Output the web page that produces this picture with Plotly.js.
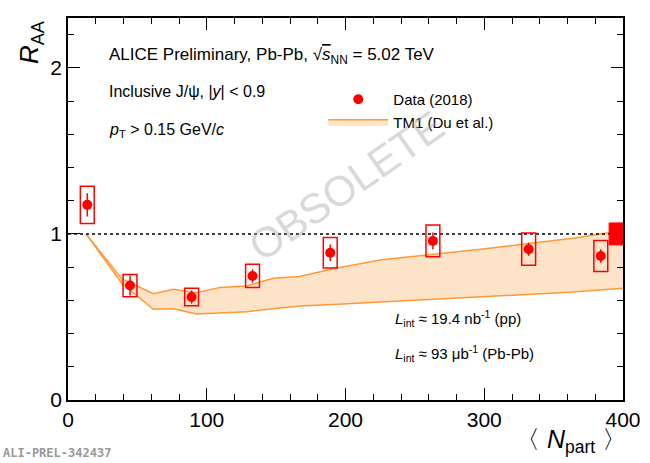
<!DOCTYPE html>
<html><head><meta charset="utf-8">
<script src="https://cdn.plot.ly/plotly-3.0.1.min.js"></script>
<style>body{margin:0}#plot{width:650px;height:463px}</style>
</head><body><div id="plot"></div>
<script>
'use strict';
// data
const npart = [13.9, 44.7, 89.1, 133, 189, 263, 332, 384];
const raa = [1.175, 0.689, 0.62, 0.747, 0.887, 0.958, 0.908, 0.867];
const statErr = [0.07, 0.06, 0.04, 0.04, 0.05, 0.05, 0.04, 0.04];
const sysErr = [0.112, 0.067, 0.053, 0.07, 0.092, 0.095, 0.097, 0.093];
const tmX = [13, 38.7, 61.5, 75.9, 92.7, 109.5, 128.8, 148, 167, 191, 225, 304, 364, 400];
const tmUp = [1.0, 0.73, 0.64, 0.667, 0.646, 0.678, 0.687, 0.733, 0.743, 0.79, 0.843, 0.914, 0.974, 1.02];
const tmLow = [1.0, 0.703, 0.546, 0.55, 0.518, 0.525, 0.532, 0.55, 0.566, 0.575, 0.59, 0.627, 0.65, 0.673];
const globalErr = 0.066;

const font = 'Liberation Sans, Arial, sans-serif';
const traces = [
  {x: tmX, y: tmLow, mode: 'lines', line: {color: '#ff9933', width: 1.5}, showlegend: false, hoverinfo: 'skip'},
  {x: tmX, y: tmUp, mode: 'lines', fill: 'tonexty', fillcolor: 'rgb(253,228,200)',
   line: {color: '#ff9933', width: 1.5}, name: 'TM1 (Du et al.)'},
  {x: npart, y: raa, mode: 'markers', name: 'Data (2018)',
   marker: {color: 'red', size: 10},
   error_y: {type: 'data', array: statErr, color: 'red', thickness: 1.5, width: 0}}
];

const shapes = [{type: 'line', xref: 'x', yref: 'y', x0: 0, x1: 400, y0: 1, y1: 1,
  line: {color: 'black', width: 1.5, dash: 'dot'}}];
npart.forEach(function(x, i){
  shapes.push({type: 'rect', xref: 'x', yref: 'y', x0: x - 5, x1: x + 5,
    y0: raa[i] - sysErr[i], y1: raa[i] + sysErr[i], line: {color: 'red', width: 1.5}});
});
shapes.push({type: 'rect', xref: 'x', yref: 'y', x0: 390, x1: 400,
  y0: 1 - globalErr, y1: 1 + globalErr, fillcolor: 'red', line: {color: 'red', width: 1}});

const annotations = [
  {xref: 'paper', yref: 'paper', x: 0.07, y: 0.935, xanchor: 'left', showarrow: false,
   text: 'ALICE Preliminary, Pb-Pb, √<span style="text-decoration:overline"><i>s</i></span><sub>NN</sub> = 5.02 TeV', font: {family: font, size: 17, color: 'black'}},
  {xref: 'paper', yref: 'paper', x: 0.07, y: 0.835, xanchor: 'left', showarrow: false,
   text: 'Inclusive J/ψ, |<i>y</i>| < 0.9', font: {family: font, size: 16, color: 'black'}},
  {xref: 'paper', yref: 'paper', x: 0.07, y: 0.735, xanchor: 'left', showarrow: false,
   text: '<i>p</i><sub>T</sub> > 0.15 GeV/<i>c</i>', font: {family: font, size: 16, color: 'black'}},
  {xref: 'paper', yref: 'paper', x: 0.585, y: 0.18, xanchor: 'left', showarrow: false,
   text: '<i>L</i><sub>int</sub> ≈ 19.4 nb<sup>-1</sup> (pp)', font: {family: font, size: 15, color: 'black'}},
  {xref: 'paper', yref: 'paper', x: 0.585, y: 0.09, xanchor: 'left', showarrow: false,
   text: '<i>L</i><sub>int</sub> ≈ 93 μb<sup>-1</sup> (Pb-Pb)', font: {family: font, size: 15, color: 'black'}},
  {xref: 'paper', yref: 'paper', x: 0.5, y: 0.56, showarrow: false, textangle: -35,
   text: 'OBSOLETE', font: {family: font, size: 42, color: 'rgba(170,170,170,0.45)'}},
  {xref: 'paper', yref: 'paper', x: -0.035, y: 1.0, xanchor: 'right', yanchor: 'top', showarrow: false, textangle: -90,
   text: '<i>R</i><sub>AA</sub>', font: {family: font, size: 26, color: 'black'}},
  {xref: 'paper', yref: 'paper', x: 1.01, y: -0.06, xanchor: 'right', yanchor: 'top', showarrow: false,
   text: '〈 <i>N</i><sub>part</sub> 〉', font: {family: font, size: 25, color: 'black'}},
  {xref: 'paper', yref: 'paper', x: -0.12, y: -0.115, xanchor: 'left', yanchor: 'top', showarrow: false,
   text: '<b>ALI-PREL-342437</b>', font: {family: 'DejaVu Sans Mono, monospace', size: 12, color: '#999'}}
];

const axisBase = {showgrid: false, zeroline: false, showline: true, linecolor: 'black', linewidth: 1.5,
  mirror: 'ticks', ticks: 'inside', ticklen: 12, tickcolor: 'black',
  tickfont: {family: font, size: 21, color: 'black'}};

const layout = {
  width: 650, height: 463,
  margin: {l: 68, r: 27, t: 18, b: 63},
  paper_bgcolor: 'white', plot_bgcolor: 'white',
  xaxis: Object.assign({}, axisBase, {range: [0, 400], dtick: 100, minor: {dtick: 20, ticks: 'inside', ticklen: 6, tickcolor: 'black'}}),
  yaxis: Object.assign({}, axisBase, {range: [0, 2.3], dtick: 1, minor: {dtick: 0.2, ticks: 'inside', ticklen: 6, tickcolor: 'black'}}),
  showlegend: true,
  legend: {x: 0.46, y: 0.83, xanchor: 'left', yanchor: 'top', bgcolor: 'rgba(0,0,0,0)', traceorder: 'reversed',
    font: {family: font, size: 15, color: 'black'}, itemwidth: 60},
  shapes: shapes,
  annotations: annotations
};

Plotly.newPlot('plot', traces, layout, {displayModeBar: false});
</script></body></html>
